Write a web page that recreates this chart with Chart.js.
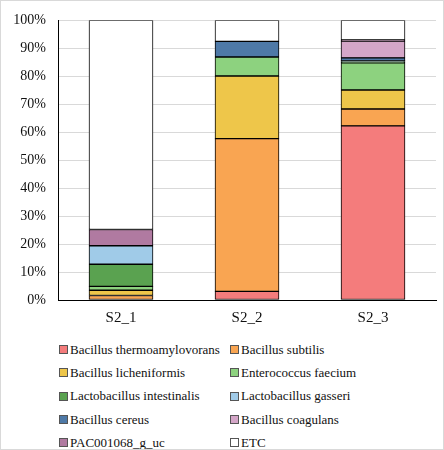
<!DOCTYPE html>
<html>
<head>
<meta charset="utf-8">
<script src="https://cdn.jsdelivr.net/npm/chart.js@4/dist/chart.umd.min.js"></script>
<style>
  html, body { margin: 0; padding: 0; background: #fff; }
  #frame {
    position: relative; width: 442px; height: 448px;
    border: 1px solid #d9d9d9; overflow: hidden;
  }
  #chartBox { position: absolute; left: -1px; top: -1px; width: 444px; height: 330px; }
  #legend {
    position: absolute; left: 58px; top: 337px;
    display: grid; grid-template-columns: 171px 190px; grid-auto-rows: 23.3px;
    font-family: 'Liberation Serif', 'Times New Roman', serif; font-size: 13px; color: #111;
  }
  .item { display: flex; align-items: center; white-space: nowrap; }
  .key { width: 7px; height: 7px; border: 1px solid #555; margin-right: 2px; flex: none; }
</style>
</head>
<body>
<div id="frame">
  <div id="chartBox"><canvas id="stackChart"></canvas></div>
  <div id="legend"></div>
</div>
<script>
const samples = ["S2_1", "S2_2", "S2_3"];
const yTicks = [0, 10, 20, 30, 40, 50, 60, 70, 80, 90, 100];

const taxa = [
  "Bacillus thermoamylovorans", "Bacillus subtilis",
  "Bacillus licheniformis", "Enterococcus faecium",
  "Lactobacillus intestinalis", "Lactobacillus gasseri",
  "Bacillus cereus", "Bacillus coagulans",
  "PAC001068_g_uc", "ETC"
];

// percent per sample, same order as samples
const thermoamylovorans = [0, 3.1, 62.3];
const subtilis = [1.6, 54.6, 6.0];
const licheniformis = [1.9, 22.4, 6.8];
const faecium = [1.4, 6.8, 9.7];
const intestinalis = [7.9, 0, 0.5];
const gasseri = [6.6, 0, 0.3];
const cereus = [0, 5.6, 1.0];
const coagulans = [0, 0, 6.0];
const pac001068 = [5.8, 0, 0.4];
const etc = [74.8, 7.5, 7.0];

const seriesValues = [thermoamylovorans, subtilis, licheniformis, faecium,
  intestinalis, gasseri, cereus, coagulans, pac001068, etc];

const colors = ["#f47c7c", "#f9a552", "#eec64a", "#8dd27f", "#5aa250",
  "#a0cbe8", "#4e79a7", "#d4a6c8", "#b07aa1", "#ffffff"];

const datasets = taxa.map((name, i) => ({
  label: name,
  data: seriesValues[i],
  backgroundColor: colors[i],
  borderColor: "#000",
  borderWidth: 1,
  borderSkipped: false,
  barThickness: 64,
}));

const serif = "'Liberation Serif', 'Times New Roman', serif";

new Chart(document.getElementById("stackChart"), {
  type: "bar",
  data: { labels: samples, datasets: datasets },
  options: {
    responsive: true,
    maintainAspectRatio: false,
    animation: false,
    layout: { padding: { left: 0, right: 8, top: 18, bottom: 0 } },
    plugins: { legend: { display: false }, tooltip: { enabled: false } },
    scales: {
      x: {
        stacked: true,
        grid: { display: false, drawTicks: false },
        border: { color: "#000", width: 1 },
        ticks: { color: "#111", font: { family: serif, size: 15 }, padding: 9 },
        afterFit: (scale) => { scale.height = 30; },
      },
      y: {
        stacked: true,
        min: 0,
        max: 100,
        afterBuildTicks: (scale) => { scale.ticks = yTicks.map((v) => ({ value: v })); },
        grid: { color: "#d9d9d9", drawTicks: false },
        border: { color: "#000", width: 1 },
        ticks: {
          color: "#111",
          font: { family: serif, size: 14 },
          padding: 12,
          callback: (v) => v + "%",
        },
        afterFit: (scale) => { scale.width = 58; },
      },
    },
  },
});

// two-column legend built from the datasets
const legendEl = document.getElementById("legend");
datasets.forEach((ds) => {
  const item = document.createElement("div");
  item.className = "item";
  const key = document.createElement("span");
  key.className = "key";
  key.style.background = ds.backgroundColor;
  const text = document.createElement("span");
  text.textContent = ds.label;
  item.appendChild(key);
  item.appendChild(text);
  legendEl.appendChild(item);
});
</script>
</body>
</html>
